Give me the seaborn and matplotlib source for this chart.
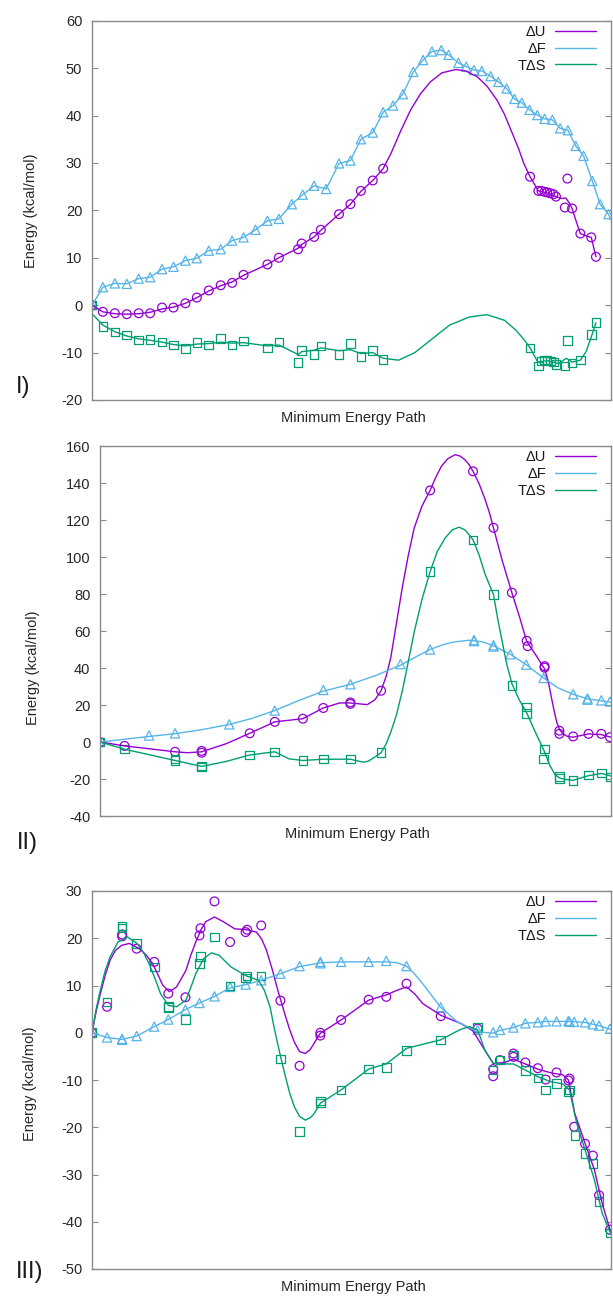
import matplotlib
matplotlib.use("Agg")
import matplotlib.pyplot as plt
import seaborn as sns

# ---------------------------------------------------------------- colours
C_U = "#9400D3"
C_F = "#56B4E9"
C_S = "#009E73"

# ---------------------------------------------------------------- panel I
# path coordinate is given in % of the plotted path (x axis has no ticks)
p1_du_x = [0, 2.1, 4.4, 6.7, 9.0, 11.2, 13.5, 15.7, 18.0, 20.2, 22.5, 24.8, 27.0, 29.2, 33.8, 36.0, 39.7, 40.4,
           42.8, 44.1, 47.6, 49.8, 51.8, 54.1, 56.1, 84.4, 86.0, 86.6, 87.2, 87.7, 88.3, 88.9, 89.4, 91.6, 91.1,
           92.5, 94.1, 96.2, 97.1]
p1_du_y = [0, -1.4, -1.7, -1.9, -1.7, -1.7, -0.5, -0.5, 0.4, 1.6, 3.1, 4.2, 4.7, 6.4, 8.6, 10.0, 11.8, 13.0,
           14.4, 15.9, 19.2, 21.3, 24.1, 26.3, 28.8, 27.1, 24.1, 24.1, 23.9, 23.8, 23.6, 23.4, 22.9, 26.7, 20.6,
           20.4, 15.1, 14.3, 10.2]
p1_du_line_x = [0, 2.1, 4.4, 6.7, 9.0, 11.2, 13.5, 15.7, 18.0, 20.2, 22.5, 24.8, 27.0, 29.2, 33.8, 36.0, 39.7,
                40.4, 42.8, 44.1, 47.6, 49.8, 51.8, 54.1, 56.1, 57.6, 59.5, 61.4, 63.3, 65.2, 67.4, 70.1, 72.0,
                74.2, 76.1, 78.0, 79.5, 81.0, 82.2, 83.2, 84.4, 86.0, 88.0, 89.4, 90.5, 91.3, 92.0, 92.5, 93.2,
                94.1, 95.5, 96.2, 97.1]
p1_du_line_y = [0, -1.4, -1.8, -1.9, -1.8, -1.5, -0.8, -0.4, 0.4, 1.6, 3.0, 4.1, 4.9, 6.3, 8.6, 10.0, 12.0,
                12.8, 14.4, 15.8, 19.2, 21.3, 24.0, 26.3, 28.8, 32.0, 36.8, 41.2, 44.6, 47.1, 49.0, 49.7, 49.4,
                48.2, 46.2, 43.3, 40.2, 36.2, 33.0, 29.9, 27.1, 24.1, 23.6, 22.9, 22.5, 22.6, 21.5, 20.4, 18.0,
                15.1, 14.5, 14.3, 10.2]
p1_df_x = [0, 2.1, 4.4, 6.7, 9.0, 11.2, 13.5, 15.7, 18.0, 20.2, 22.5, 24.8, 27.0, 29.2, 31.5, 33.8, 36.0, 38.5,
           40.6, 42.8, 45.1, 47.6, 49.8, 51.8, 54.1, 56.1, 58.0, 59.9, 61.9, 63.8, 65.5, 67.3, 68.7, 70.6, 72.1,
           73.6, 75.1, 76.8, 78.3, 79.9, 81.4, 82.8, 84.3, 85.8, 87.2, 88.7, 90.2, 91.7, 93.2, 94.7, 96.4, 97.9, 99.5]
p1_df_y = [0, 3.8, 4.6, 4.5, 5.6, 5.9, 7.6, 8.1, 9.4, 9.9, 11.5, 11.8, 13.6, 14.3, 15.9, 17.8, 18.2, 21.3, 23.3,
           25.2, 24.5, 29.9, 30.5, 35.0, 36.4, 40.7, 42.1, 44.5, 49.2, 51.7, 53.5, 53.8, 52.8, 51.1, 50.3, 49.6,
           49.4, 48.3, 47.1, 45.7, 43.5, 42.7, 41.2, 40.1, 39.3, 39.1, 37.3, 36.9, 33.6, 31.5, 26.2, 21.3, 19.2]
p1_df_line_x = p1_df_x + [100]
p1_df_line_y = p1_df_y + [18.0]
p1_ts_x = [0, 2.1, 4.4, 6.7, 9.0, 11.2, 13.5, 15.7, 18.0, 20.2, 22.5, 24.8, 27.0, 29.2, 33.8, 36.0, 39.7, 40.4,
           42.8, 44.1, 47.6, 49.8, 51.8, 54.1, 56.1, 84.4, 86.0, 86.6, 87.2, 87.7, 88.3, 88.9, 89.4, 91.1, 91.6,
           92.5, 94.1, 96.2, 97.1]
p1_ts_y = [0, -4.5, -5.7, -6.3, -7.3, -7.2, -7.8, -8.4, -9.1, -7.9, -8.4, -7.0, -8.4, -7.6, -9.0, -7.8, -12.1,
           -9.6, -10.4, -8.6, -10.4, -8.1, -10.8, -9.6, -11.4, -9.0, -12.8, -11.8, -11.6, -11.6, -11.8, -12.0,
           -12.5, -12.8, -7.4, -12.2, -11.6, -6.2, -3.7]
p1_ts_line_x = [0, 2.1, 4.4, 6.7, 9.0, 11.2, 13.5, 15.7, 18.0, 20.2, 22.5, 24.8, 27.0, 29.2, 33.8, 36.0, 39.7,
                40.4, 42.8, 44.1, 47.6, 49.8, 51.8, 54.1, 56.1, 59.1, 62.2, 65.2, 68.9, 72.7, 76.1, 79.5, 81.7,
                83.2, 84.4, 85.9, 87.7, 89.9, 91.4, 92.5, 94.1, 95.2, 96.2, 97.1]
p1_ts_line_y = [-1.8, -4.2, -5.6, -6.5, -7.1, -7.4, -7.8, -8.3, -8.6, -8.2, -8.1, -7.8, -8.0, -7.9, -8.6, -8.4,
                -10.4, -9.8, -9.5, -9.0, -9.6, -9.4, -10.2, -10.0, -11.2, -11.6, -10.0, -7.4, -4.2, -2.5, -2.0,
                -3.2, -5.3, -7.2, -9.0, -12.0, -11.7, -12.3, -11.2, -12.0, -11.6, -9.8, -6.7, -3.7]

# ---------------------------------------------------------------- panel II
p2_du_x = [0, 4.8, 14.7, 19.9, 19.9, 29.3, 34.2, 39.7, 43.7, 49.0, 49.0, 55.0, 64.6, 73.0, 77.0, 80.6, 83.5,
           83.7, 87.0, 87.0, 89.9, 89.9, 92.6, 95.6, 98.1, 99.8]
p2_du_y = [0, -2.1, -5.3, -4.8, -5.8, 4.7, 10.9, 12.6, 18.4, 20.6, 21.4, 27.7, 136.0, 146.3, 115.8, 80.7, 54.7,
           51.8, 40.2, 41.0, 6.1, 4.4, 3.0, 4.4, 4.4, 2.6]
p2_du_line_x = [0, 4.8, 14.7, 17.1, 19.9, 24.7, 29.3, 34.2, 39.7, 43.7, 46.9, 49.0, 52.3, 53.8, 55.0, 56.0,
                56.9, 58.0, 59.2, 60.3, 61.5, 63.0, 64.6, 65.7, 66.8, 68.0, 69.5, 70.5, 71.4, 72.2, 73.0, 74.2,
                75.3, 76.2, 77.0, 78.7, 80.6, 82.2, 83.5, 85.2, 87.0, 87.7, 88.3, 88.9, 89.4, 90.0, 90.6, 91.5,
                92.6, 95.6, 98.1, 100]
p2_du_line_y = [0, -2.1, -5.3, -5.8, -5.3, -0.9, 4.7, 10.9, 12.6, 18.4, 21.1, 21.1, 20.2, 22.8, 27.7, 35.5,
                45.6, 64.0, 84.2, 100.5, 115.8, 127.5, 136.0, 143.0, 149.0, 153.0, 155.3, 154.5, 152.6, 150.0,
                146.3, 139.5, 131.6, 124.0, 115.8, 98.2, 80.7, 66.7, 54.4, 47.4, 39.5, 33.0, 24.6, 16.5, 10.5,
                6.5, 4.4, 3.0, 2.6, 4.4, 4.0, 2.6]
p2_df_x = [0, 9.6, 14.7, 25.3, 34.2, 43.7, 49.0, 58.8, 64.6, 73.2, 73.2, 77.0, 77.0, 80.3, 83.4, 86.8, 92.6,
           95.4, 95.4, 98.1, 99.8]
p2_df_y = [0, 3.5, 4.7, 9.5, 17.0, 28.1, 31.2, 42.1, 50.0, 55.1, 54.5, 52.3, 51.6, 47.4, 41.8, 34.6, 25.8,
           23.5, 22.9, 22.5, 21.9]
p2_df_line_x = [0, 9.6, 14.7, 20.0, 25.3, 29.8, 34.2, 39.0, 43.7, 49.0, 54.0, 58.8, 61.8, 64.6, 67.0, 69.1,
                72.2, 74.8, 77.0, 80.3, 83.4, 86.8, 89.6, 92.6, 95.4, 98.1, 100]
p2_df_line_y = [0, 3.0, 4.5, 6.7, 9.5, 12.8, 17.0, 22.5, 27.5, 31.2, 36.0, 41.5, 46.0, 50.0, 52.5, 54.0,
                55.0, 54.2, 52.0, 47.4, 41.8, 34.6, 29.3, 25.8, 23.3, 22.3, 21.5]
p2_ts_x = [0, 4.8, 14.7, 14.7, 19.9, 19.9, 29.3, 34.2, 39.7, 43.7, 49.0, 55.0, 64.6, 73.0, 77.0, 80.6, 83.5,
           83.5, 87.0, 86.8, 89.9, 89.9, 92.6, 95.6, 98.1, 99.8]
p2_ts_y = [0, -3.9, -10.0, -9.2, -13.0, -13.5, -7.0, -5.3, -10.0, -9.3, -9.3, -5.8, 92.1, 109.3, 79.8, 30.4,
           18.9, 15.3, -3.9, -9.1, -18.6, -19.6, -20.7, -17.9, -16.8, -18.9]
p2_ts_line_x = [0, 4.8, 14.7, 19.9, 24.7, 29.3, 34.2, 37.0, 39.7, 43.7, 49.0, 50.5, 51.5, 52.5, 53.4, 54.2,
                55.0, 56.0, 56.9, 58.0, 59.2, 60.3, 61.5, 63.0, 64.6, 66.0, 67.6, 69.0, 70.3, 71.5, 73.0, 74.2,
                75.3, 76.2, 77.0, 77.8, 78.7, 79.6, 80.6, 82.0, 83.5, 85.2, 87.0, 88.0, 89.1, 90.0, 91.0, 92.6,
                95.6, 98.1, 100]
p2_ts_line_y = [0, -3.9, -10.0, -13.2, -10.5, -7.0, -5.3, -9.1, -10.0, -9.3, -9.3, -10.3, -10.9, -10.4, -8.8,
                -7.4, -5.8, -1.0, 5.3, 14.5, 28.1, 43.0, 59.6, 77.0, 92.1, 103.0, 110.5, 114.8, 116.1, 114.5,
                109.3, 101.0, 91.2, 85.0, 79.8, 67.0, 54.4, 42.0, 31.6, 23.0, 15.8, 5.3, -5.3, -12.5, -17.9,
                -19.5, -20.2, -20.7, -18.2, -17.0, -18.4]

# ---------------------------------------------------------------- panel III
p3_du_x = [0, 2.9, 5.8, 5.8, 8.6, 12.0, 14.7, 18.0, 20.7, 20.9, 23.6, 26.6, 29.6, 29.9, 32.6, 36.3, 40.0, 44.0,
           44.0, 48.0, 53.3, 56.7, 60.6, 67.2, 74.3, 77.3, 77.3, 78.6, 81.2, 81.2, 83.5, 85.9, 87.4, 89.5, 91.8,
           92.0, 92.9, 95.0, 96.5, 97.7, 99.8]
p3_du_y = [0, 5.5, 20.8, 20.4, 17.8, 15.0, 8.3, 7.5, 20.6, 22.1, 27.8, 19.2, 21.3, 21.8, 22.7, 6.8, -7.0, -0.6,
           0.0, 2.7, 7.0, 7.6, 10.4, 3.5, 0.9, -7.7, -9.2, -5.8, -4.4, -5.1, -6.3, -7.5, -9.9, -8.4, -10.1, -9.7,
           -19.9, -23.5, -26.0, -34.4, -41.7]
p3_du_line_x = [0, 0.8, 1.6, 2.5, 3.5, 4.5, 5.7, 7.2, 9.1, 10.4, 11.7, 12.7, 13.6, 14.9, 16.3, 18.1, 19.0,
                20.0, 21.0, 21.9, 23.6, 25.3, 27.5, 29.8, 31.7, 32.7, 33.6, 34.7, 35.8, 37.0, 38.1, 39.0, 40.0,
                41.1, 42.0, 42.6, 43.3, 44.0, 48.0, 53.3, 56.7, 58.8, 60.6, 62.2, 63.7, 67.2, 71.2, 73.4, 75.3,
                77.3, 79.5, 81.2, 83.5, 85.9, 88.5, 90.7, 91.8, 93.0, 95.0, 96.8, 98.3, 100]
p3_du_line_y = [0, 4.5, 8.2, 12.0, 15.4, 17.4, 18.5, 18.9, 17.8, 16.5, 14.6, 12.3, 10.1, 8.7, 9.7, 13.2, 16.3,
                19.2, 21.8, 23.5, 24.5, 23.5, 22.0, 21.8, 21.3, 19.8, 17.5, 13.5, 9.0, 4.5, 0.6, -2.0, -4.0,
                -4.4, -3.6, -2.6, -1.3, -0.1, 2.7, 6.9, 8.0, 9.0, 9.7, 8.2, 6.2, 3.7, 1.9, 0.4, -3.0, -6.5, -6.3,
                -5.6, -6.6, -7.7, -8.5, -8.9, -10.0, -17.0, -23.4, -29.0, -36.1, -42.4]
p3_df_x = [0, 2.9, 5.8, 5.8, 8.6, 12.0, 14.7, 18.0, 20.7, 23.6, 26.6, 29.6, 32.6, 36.3, 40.0, 44.0, 44.0, 48.0,
           53.3, 56.7, 60.6, 67.2, 74.3, 77.3, 78.6, 81.2, 83.5, 85.9, 87.4, 89.5, 91.8, 92.0, 92.9, 95.0, 96.5,
           97.7, 99.8]
p3_df_y = [0, -1.0, -1.5, -1.3, -0.7, 1.3, 2.8, 4.9, 6.3, 7.7, 9.7, 10.2, 11.1, 12.5, 14.1, 15.0, 14.7, 15.0,
           15.0, 15.2, 14.1, 5.4, 0.6, 0.1, 0.6, 1.1, 2.0, 2.2, 2.4, 2.4, 2.5, 2.3, 2.3, 2.2, 1.8, 1.5, 0.9]
p3_df_line_x = [0, 2.9, 5.8, 8.6, 12.0, 14.7, 18.0, 20.7, 23.6, 26.6, 29.6, 32.6, 36.3, 40.0, 44.0, 48.0, 53.3,
                56.7, 58.8, 60.6, 62.2, 63.7, 65.5, 67.2, 70.4, 74.3, 77.3, 78.6, 81.2, 83.5, 85.9, 87.4, 89.5,
                91.8, 92.9, 95.0, 96.5, 97.7, 100]
p3_df_line_y = [0, -1.0, -1.4, -0.7, 1.3, 2.8, 4.9, 6.3, 7.7, 9.5, 10.2, 11.1, 12.5, 14.0, 14.8, 15.0, 15.0,
                15.0, 14.8, 14.1, 12.4, 10.4, 7.8, 5.4, 2.3, 0.2, -0.1, 0.5, 1.1, 2.0, 2.2, 2.4, 2.4, 2.4, 2.3,
                2.2, 1.8, 1.5, 0.7]
p3_ts_x = [0, 2.9, 5.8, 5.8, 8.6, 12.0, 14.7, 14.7, 18.0, 20.7, 20.9, 23.6, 26.6, 29.6, 29.9, 32.6, 36.3, 40.0,
           44.0, 44.0, 48.0, 53.3, 56.7, 60.6, 67.2, 74.3, 77.3, 78.6, 81.2, 83.5, 85.9, 87.4, 89.5, 92.0, 91.8,
           93.1, 95.0, 96.5, 97.7, 99.8]
p3_ts_y = [0, 6.5, 22.6, 22.2, 18.9, 13.9, 5.6, 5.3, 2.8, 14.6, 16.1, 20.3, 9.9, 11.6, 12.0, 12.0, -5.6, -20.9,
           -14.9, -14.4, -12.1, -7.7, -7.4, -3.7, -1.5, 1.1, -7.9, -5.8, -4.7, -8.0, -9.6, -12.1, -10.7, -12.1,
           -12.5, -21.8, -25.6, -27.7, -35.7, -42.4]
p3_ts_line_x = [0, 0.8, 1.6, 2.5, 3.5, 5.0, 6.8, 8.7, 9.9, 11.0, 12.2, 13.2, 14.7, 16.3, 18.1, 19.0, 20.0,
                21.5, 23.0, 24.5, 26.8, 29.8, 32.1, 33.2, 34.3, 35.2, 36.2, 37.2, 38.1, 39.0, 40.0, 41.1, 42.0,
                42.6, 43.3, 44.0, 48.0, 53.3, 56.7, 60.6, 67.2, 70.8, 72.7, 74.3, 75.7, 77.3, 79.5, 81.2, 83.5,
                85.9, 88.5, 90.7, 92.0, 93.4, 95.0, 96.8, 98.3, 100]
p3_ts_line_y = [0, 5.0, 9.0, 13.0, 16.1, 19.2, 20.3, 18.9, 17.0, 14.6, 11.3, 8.3, 5.8, 5.5, 6.9, 9.5, 12.5,
                15.7, 16.9, 16.4, 13.9, 12.0, 11.1, 9.0, 5.5, 0.5, -4.4, -9.0, -12.8, -15.7, -17.7, -18.5, -18.0,
                -17.4, -16.2, -14.9, -12.1, -7.7, -6.6, -3.3, -1.5, 0.6, 1.3, 0.6, -3.7, -6.5, -6.6, -6.6, -7.9,
                -9.3, -10.4, -10.8, -12.1, -19.2, -24.8, -31.1, -38.2, -42.7]

labels = ["\u0394U", "\u0394F", "T\u0394S"]
panel_names = ["I)", "II)", "III)"]
y_ranges = [(-20, 60, 10), (-40, 160, 20), (-50, 30, 10)]

sns.set_style("white")
plt.rcParams["font.family"] = ["Liberation Sans", "DejaVu Sans"]
plt.rcParams["text.color"] = "#1a1a1a"
plt.rcParams["axes.unicode_minus"] = False

FRAME = "#8a8a8a"
W, H = 613, 1298
fig = plt.figure(figsize=(W / 100, H / 100), dpi=100)

# axes boxes in pixels: left, top, bottom (all run to the right edge)
boxes = [(92, 20.7, 400), (100, 446, 816), (92, 891, 1269)]
ylab_pos = [(-0.104, 0.5), (-0.117, 0.40), (-0.106, 0.49)]
tag_pos = [(23, 387), (27, 843), (30, 1272)]

panels = [
    [(p1_du_x, p1_du_y, p1_du_line_x, p1_du_line_y),
     (p1_df_x, p1_df_y, p1_df_line_x, p1_df_line_y),
     (p1_ts_x, p1_ts_y, p1_ts_line_x, p1_ts_line_y)],
    [(p2_du_x, p2_du_y, p2_du_line_x, p2_du_line_y),
     (p2_df_x, p2_df_y, p2_df_line_x, p2_df_line_y),
     (p2_ts_x, p2_ts_y, p2_ts_line_x, p2_ts_line_y)],
    [(p3_du_x, p3_du_y, p3_du_line_x, p3_du_line_y),
     (p3_df_x, p3_df_y, p3_df_line_x, p3_df_line_y),
     (p3_ts_x, p3_ts_y, p3_ts_line_x, p3_ts_line_y)],
]
colors = [C_U, C_F, C_S]
markers = ["o", "^", "s"]
msize = [40, 44, 38]

for k, (series, (left, top, bottom)) in enumerate(zip(panels, boxes)):
    right = 611
    ax = fig.add_axes([left / W, 1 - bottom / H, (right - left) / W, (bottom - top) / H])
    for (mx, my, lx, ly), c, m, s, lab in zip(series, colors, markers, msize, labels):
        sns.lineplot(x=lx, y=ly, ax=ax, color=c, lw=1.0, sort=False, estimator=None, label=lab)
        sns.scatterplot(x=mx, y=my, ax=ax, marker=m, s=s, facecolor="none", edgecolor=c,
                        linewidth=0.9, legend=False)
    lo, hi, step = y_ranges[k]
    ax.set_xlim(0, 100)
    ax.set_ylim(lo, hi)
    ax.set_yticks(range(lo, hi + 1, step))
    ax.set_xticks([])
    ax.tick_params(axis="y", direction="in", length=4, width=0.8, color=FRAME, right=True, left=True,
                   labelsize=10.5, pad=7)
    for sp in ax.spines.values():
        sp.set_color(FRAME)
        sp.set_linewidth(1.0)
    ax.set_ylabel("Energy (kcal/mol)", fontsize=10.5)
    ax.yaxis.set_label_coords(*ylab_pos[k])
    ax.set_xlabel("Minimum Energy Path", fontsize=10.5)
    ax.xaxis.set_label_coords(0.503, -11 / (bottom - top))
    ax.legend(loc="upper right", bbox_to_anchor=(1 - 15 / (right - left), 1 - 4 / (bottom - top)),
              frameon=False, markerfirst=False, fontsize=10.5, handlelength=2.8, handletextpad=0.6,
              labelspacing=0.2, borderaxespad=0, borderpad=0)
    tx, ty = tag_pos[k]
    fig.text(tx / W, 1 - ty / H, panel_names[k], fontsize=17, ha="center", va="center",
             family=["Liberation Sans"], fontweight="light")

fig.savefig("out.png", dpi=100)
